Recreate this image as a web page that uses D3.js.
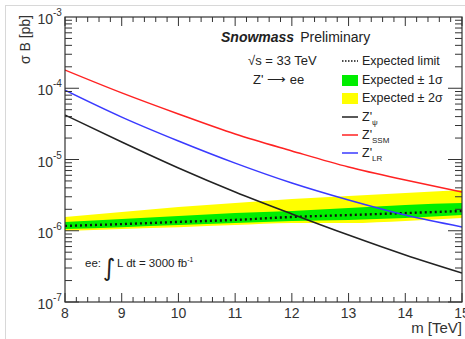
<!DOCTYPE html>
<html>
<head>
<meta charset="utf-8">
<script src="https://cdn.jsdelivr.net/npm/d3@7"></script>
<style>
  body { margin: 0; background: #fff; }
  svg { font-family: "Liberation Sans", Arial, sans-serif; }
</style>
</head>
<body>
<div id="chart"></div>
<script>
// masses in TeV
const masses = [8, 9, 10, 11, 12, 13, 14, 15];
// sigma x B in pb
const zpsi = [4.21e-5, 1.76e-5, 7.6e-6, 3.5e-6, 1.72e-6, 8.7e-7, 4.57e-7, 2.55e-7];
const zssm = [1.80e-4, 8.6e-5, 4.35e-5, 2.28e-5, 1.32e-5, 7.85e-6, 5.15e-6, 3.5e-6];
const zlr = [9.4e-5, 3.94e-5, 1.82e-5, 8.9e-6, 4.68e-6, 2.7e-6, 1.66e-6, 1.13e-6];
const expected = [1.17e-6, 1.24e-6, 1.33e-6, 1.42e-6, 1.56e-6, 1.66e-6, 1.77e-6, 1.89e-6];
const sig1Lo = [1.06e-6, 1.12e-6, 1.20e-6, 1.28e-6, 1.37e-6, 1.42e-6, 1.51e-6, 1.66e-6];
const sig1Hi = [1.33e-6, 1.46e-6, 1.61e-6, 1.77e-6, 1.89e-6, 2.08e-6, 2.30e-6, 2.45e-6];
const sig2Lo = [0.99e-6, 1.06e-6, 1.12e-6, 1.20e-6, 1.28e-6, 1.28e-6, 1.37e-6, 1.51e-6];
const sig2Hi = [1.56e-6, 1.83e-6, 2.15e-6, 2.45e-6, 2.79e-6, 3.08e-6, 3.39e-6, 3.73e-6];
const xTicks = [8, 9, 10, 11, 12, 13, 14, 15];
const yDecades = [-3, -4, -5, -6, -7];

const W = 465, H = 339;
const padLeft = 65, padRight = 462, padTop = 17, padBottom = 302;

let svg = d3.select("#chart").append("svg")
    .attr("width", W)
    .attr("height", H);

svg.append("rect")
    .attr("x", 5.5).attr("y", 5.5)
    .attr("width", 480).attr("height", 360)
    .attr("fill", "none")
    .attr("stroke", "#d8d8d8");

let x = d3.scaleLinear().domain([8, 15]).range([padLeft, padRight]);
let y = d3.scaleLog().domain([1e-7, 1e-3]).range([padBottom, padTop]);

let plot = svg.append("g");
plot.append("clipPath").attr("id", "clip")
    .append("rect").attr("x", padLeft).attr("y", padTop)
    .attr("width", padRight - padLeft).attr("height", padBottom - padTop);

let rows = masses.map((m, i) => ({
    m: m, psi: zpsi[i], ssm: zssm[i], lr: zlr[i], exp: expected[i],
    s1lo: sig1Lo[i], s1hi: sig1Hi[i], s2lo: sig2Lo[i], s2hi: sig2Hi[i]
}));

let curve = d3.curveMonotoneX;
let band = (lo, hi) => d3.area()
    .x(d => x(d.m)).y0(d => y(d[lo])).y1(d => y(d[hi])).curve(curve);
let line = key => d3.line()
    .x(d => x(d.m)).y(d => y(d[key])).curve(curve);

let g = plot.append("g").attr("clip-path", "url(#clip)");
g.append("path").attr("d", band("s2lo", "s2hi")(rows)).attr("fill", "#ffff00");
g.append("path").attr("d", band("s1lo", "s1hi")(rows)).attr("fill", "#00ee00");
g.append("path").attr("d", line("exp")(rows))
    .attr("fill", "none").attr("stroke", "#111")
    .attr("stroke-width", 2.4).attr("stroke-dasharray", "2,3");

let series = [
    { key: "psi", color: "#222222" },
    { key: "ssm", color: "#ff2222" },
    { key: "lr", color: "#3a3aff" }
];
series.forEach(s => {
    g.append("path").attr("d", line(s.key)(rows))
        .attr("fill", "none").attr("stroke", s.color).attr("stroke-width", 1.5);
});

// frame and ticks
let axisColor = "#333";
svg.append("rect")
    .attr("x", padLeft).attr("y", padTop)
    .attr("width", padRight - padLeft).attr("height", padBottom - padTop)
    .attr("fill", "none").attr("stroke", axisColor).attr("stroke-width", 1.2);

let ticks = svg.append("g").attr("stroke", axisColor).attr("stroke-width", 1);
d3.range(8, 15.001, 0.2).forEach(v => {
    let major = Math.abs(v - Math.round(v)) < 1e-6;
    let len = major ? 9 : 5;
    let px = x(v);
    ticks.append("line").attr("x1", px).attr("x2", px).attr("y1", padBottom).attr("y2", padBottom - len);
    ticks.append("line").attr("x1", px).attr("x2", px).attr("y1", padTop).attr("y2", padTop + len);
});
yDecades.forEach(e => {
    if (e === -3) return;
    for (let k = 1; k <= 9; k++) {
        let v = k * Math.pow(10, e);
        let len = k === 1 ? 14 : 7;
        let py = y(v);
        ticks.append("line").attr("x1", padLeft).attr("x2", padLeft + len).attr("y1", py).attr("y2", py);
        ticks.append("line").attr("x1", padRight).attr("x2", padRight - len).attr("y1", py).attr("y2", py);
    }
});

let txtColor = "#333";
xTicks.forEach(v => {
    svg.append("text")
        .attr("x", x(v)).attr("y", 318)
        .attr("text-anchor", "middle")
        .attr("font-size", 14).attr("fill", txtColor)
        .text(v);
});
yDecades.forEach(e => {
    svg.append("text")
        .attr("x", 53).attr("y", y(Math.pow(10, e)) + 7)
        .attr("text-anchor", "end")
        .attr("font-size", 14).attr("fill", txtColor)
        .text("10");
    svg.append("text")
        .attr("x", 53).attr("y", y(Math.pow(10, e)) - 1)
        .attr("font-size", 10).attr("fill", txtColor)
        .text("-" + (-e));
});

svg.append("text")
    .attr("transform", "translate(30, 15) rotate(-90)")
    .attr("text-anchor", "end")
    .attr("font-size", 14).attr("fill", txtColor)
    .text("σ B [pb]");
svg.append("text")
    .attr("x", 462).attr("y", 333)
    .attr("text-anchor", "end")
    .attr("font-size", 15).attr("fill", txtColor)
    .text("m [TeV]");

// header texts
let head = svg.append("text").attr("x", 221).attr("y", 42).attr("font-size", 14).attr("fill", "#222");
head.append("tspan").attr("font-weight", "bold").attr("font-style", "italic").text("Snowmass");
head.append("tspan").attr("dx", 6).text("Preliminary");
svg.append("text").attr("x", 248).attr("y", 65).attr("font-size", 13).attr("fill", "#222")
    .text("√s = 33 TeV");
svg.append("text").attr("x", 253).attr("y", 84).attr("font-size", 13).attr("fill", "#222")
    .text("Z' ⟶ ee");

// legend
let lx = 342, tx = 362;
let legend = svg.append("g").attr("font-size", 12.5).attr("fill", "#222");
legend.append("line").attr("x1", lx).attr("x2", lx + 16).attr("y1", 61).attr("y2", 61)
    .attr("stroke", "#111").attr("stroke-width", 1.4).attr("stroke-dasharray", "1.5,1.5");
legend.append("text").attr("x", tx).attr("y", 65).text("Expected limit");
legend.append("rect").attr("x", lx).attr("y", 75).attr("width", 16).attr("height", 11).attr("fill", "#00ee00");
legend.append("text").attr("x", tx).attr("y", 84).text("Expected ± 1σ");
legend.append("rect").attr("x", lx).attr("y", 93).attr("width", 16).attr("height", 11).attr("fill", "#ffff00");
legend.append("text").attr("x", tx).attr("y", 102).text("Expected ± 2σ");

let legSeries = [
    { color: "#222222", sub: "ψ", y: 117 },
    { color: "#ff2222", sub: "SSM", y: 135 },
    { color: "#3a3aff", sub: "LR", y: 153 }
];
legSeries.forEach(s => {
    legend.append("line").attr("x1", lx).attr("x2", lx + 16).attr("y1", s.y).attr("y2", s.y)
        .attr("stroke", s.color).attr("stroke-width", 1.5);
    let t = legend.append("text").attr("x", tx).attr("y", s.y + 4);
    t.append("tspan").text("Z'");
    t.append("tspan").attr("font-size", 8).attr("dy", 4).text(s.sub);
});

// luminosity note
let note = svg.append("g").attr("fill", "#222");
note.append("text").attr("x", 85).attr("y", 267).attr("font-size", 11.5).text("ee:");
note.append("text").attr("x", 103).attr("y", 276).attr("font-size", 24)
    .attr("font-family", "DejaVu Sans").text("∫");
let lum = note.append("text").attr("x", 117).attr("y", 267).attr("font-size", 11.5);
lum.append("tspan").text("L dt = 3000 fb");
lum.append("tspan").attr("font-size", 7).attr("dy", -5).text("-1");
</script>
</body>
</html>
